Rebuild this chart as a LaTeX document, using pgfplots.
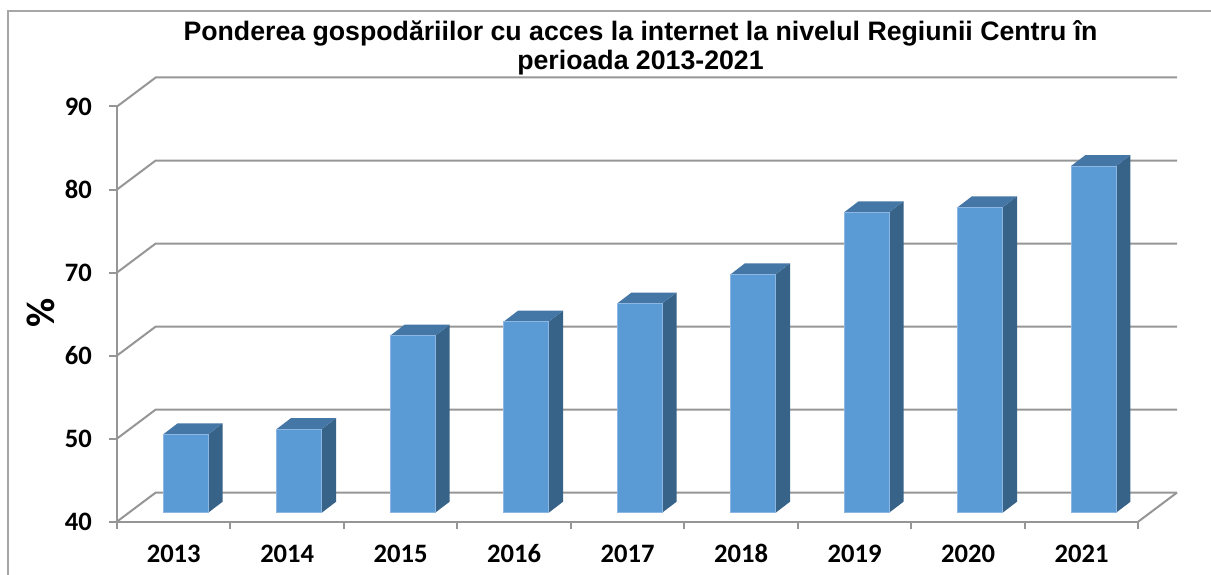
\documentclass[border=0pt]{standalone}
\usepackage{pgfplots}
\pgfplotsset{compat=1.18}
\usepackage{pgfplotstable}
\usepackage{fontspec}
\setmainfont{Carlito}
\newfontfamily\arialfont{Liberation Sans}
\definecolor{barfront}{HTML}{5B9BD5}
\definecolor{bartop}{HTML}{4577A6}
\definecolor{barside}{HTML}{386389}
\definecolor{baredge}{HTML}{8DB6E2}
\definecolor{gridc}{HTML}{969696}
\definecolor{borderc}{HTML}{A6A6A6}
\pgfplotstableread{
i v
0 49.44
1 50.08
2 61.32
3 63.01
4 65.20
5 68.72
6 76.18
7 76.79
8 81.76
}\data
\begin{document}
\begin{tikzpicture}
\draw[borderc, line width=0.7pt] (4pt,-20pt) -- (4pt,281.5pt) -- (640pt,281.5pt);
\node[font=\arialfont\bfseries\fontsize{13.35}{15}\selectfont, anchor=base] at (320.25pt,266.5pt) {Ponderea gospodăriilor cu acces la internet la nivelul Regiunii Centru în};
\node[font=\arialfont\bfseries\fontsize{13.35}{15}\selectfont, anchor=base] at (320.25pt,252pt) {perioada 2013-2021};
\node[font=\bfseries\fontsize{20}{24}\selectfont, rotate=90] at (20.5pt,130.5pt) {\%};
\begin{axis}[
  at={(58.5pt,26.2pt)}, anchor=south west,
  x=56.74pt, y=4.151pt,
  xmin=0, xmax=9, ymin=40, ymax=90,
  clip=false,
  axis lines*=left,
  axis line style={-, gridc, line width=1pt},
  tick style={gridc, line width=1pt},
  tick align=outside,
  ytick={40,50,...,90},
  yticklabels={40,50,60,70,80,90},
  major tick length=4pt,
  xtick={0.5,1.5,...,8.5},
  xticklabels={2013,2014,2015,2016,2017,2018,2019,2020,2021},
  major x tick style={draw=none},
  minor xtick={0,1,...,9},
  minor x tick style={gridc, line width=1pt},
  minor tick length=3.5pt,
  ticklabel style={font=\bfseries\fontsize{13.3}{15}\selectfont, text=black},
  xticklabel style={text height=9pt, text depth=0pt, yshift=-4pt},
  yticklabel style={xshift=-5pt},
]
\pgfplotsinvokeforeach{40,50,...,90}{
  \draw[gridc, line width=1pt] (axis cs:0,#1) -- ++(19.35pt,14.5pt) -- ++(510.66pt,0pt);
}
\draw[gridc, line width=1pt] (axis cs:9,40) -- ++(19.35pt,14.5pt);
\pgfplotsinvokeforeach{0,...,8}{
  \pgfplotstablegetelem{#1}{v}\of\data
  \pgfmathsetmacro\yb{\pgfplotsretval+1.07}
  \pgfmathsetmacro\yc{\pgfplotsretval+2.395}
  \pgfmathsetmacro\xa{#1+0.407}
  \pgfmathsetmacro\xb{#1+0.804}
  \pgfmathsetmacro\xc{#1+0.931}
  \pgfmathsetmacro\xd{#1+0.534}
  \addplot[fill=barside, draw=none] coordinates {(\xb,41.07) (\xb,\yb) (\xc,\yc) (\xc,42.395)} -- cycle;
  \addplot[fill=bartop, draw=none] coordinates {(\xa,\yb) (\xd,\yc) (\xc,\yc) (\xb,\yb)} -- cycle;
  \addplot[fill=barfront, draw=baredge, line width=0.5pt] coordinates {(\xa,41.07) (\xa,\yb) (\xb,\yb) (\xb,41.07)} -- cycle;
}
\end{axis}
\pgfresetboundingbox
\path[use as bounding box] (0,0) rectangle (605.5pt,287pt);
\end{tikzpicture}
\end{document}
